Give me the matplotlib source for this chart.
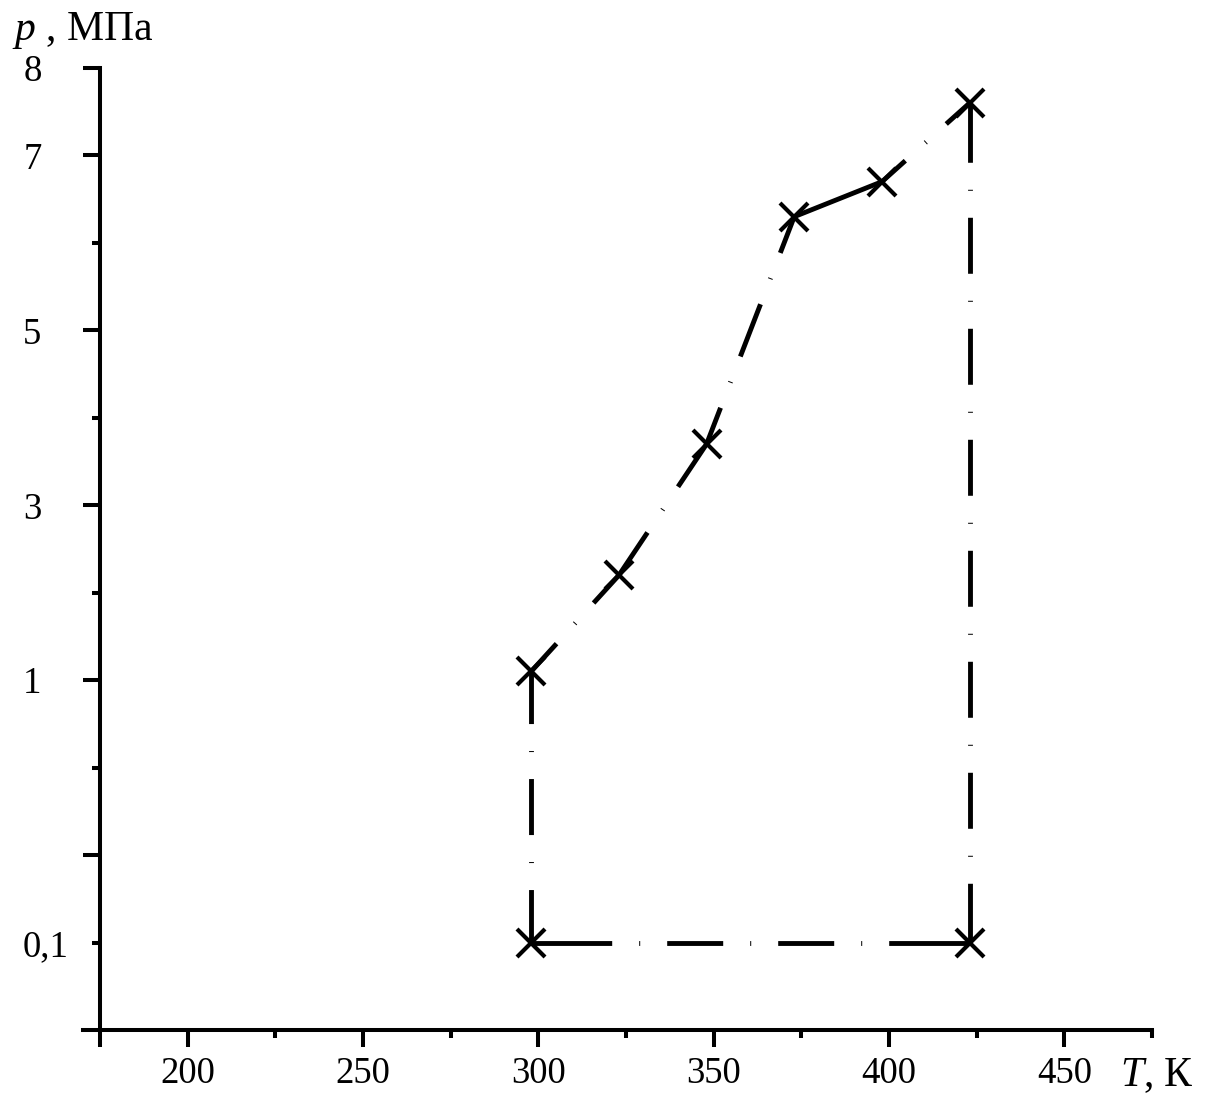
import numpy as np
import matplotlib.pyplot as plt

plt.rcParams['font.family'] = ['Liberation Serif', 'DejaVu Serif']
plt.rcParams['mathtext.fontset'] = 'custom'
plt.rcParams['mathtext.rm'] = 'Liberation Serif'
plt.rcParams['mathtext.it'] = 'Liberation Serif:italic'
plt.rcParams['lines.scale_dashes'] = False

# temperature, K and pressure, MPa along the cycle
T_curve = [298, 323, 348, 373, 398, 423]
p_curve = [1.1, 2.2, 3.7, 6.3, 6.7, 7.6]
T_low = [298, 423]
p_low = [0.1, 0.1]

x_major = [175, 200, 250, 300, 350, 400, 450]
x_major_labels = ['', '200', '250', '300', '350', '400', '450']
x_minor = [225, 275, 325, 375, 425, 475]

y_major = [10 ** (-2 / 3), 1, 3, 5, 7, 8]
y_major_labels = ['', '1', '3', '5', '7', '8']
y_minor = [0.1, 10 ** (-1 / 3), 2, 4, 6]
y_minor_labels = ['0,1', '', '', '', '']


# pressure axis: linear above 1 MPa, compressed log below
def fwd(p):
    p = np.asarray(p, dtype=float)
    lp = 1 + 3 * np.log10(np.clip(p, 1e-6, None))
    return np.where(p >= 1, p, lp)


def inv(y):
    y = np.asarray(y, dtype=float)
    return np.where(y >= 1, y, 10 ** ((y - 1) / 3))


def side(ax, x, y, dash=56, gap=27, dot=1, end_min=27):
    # dash-dot segment that starts and ends with a dash (lengths in pixels)
    a, b = ax.transData.transform(np.column_stack([x, y]))
    L = np.hypot(*(b - a))
    period = dash + 2 * gap + dot
    n = int((L + dash - 2 * end_min) // period)
    k = 72 / ax.figure.dpi
    if n <= 0:
        ls = '-'
    else:
        end = (L + dash - n * period) / 2
        seq = [end, gap, dot, gap] + [dash, gap, dot, gap] * (n - 1) + [end, 1000]
        ls = (0, [v * k for v in seq])
    ax.plot(x, y, color='black', lw=3.5, linestyle=ls,
            dash_capstyle='butt', solid_capstyle='butt')


fig = plt.figure(figsize=(12.16, 11), dpi=100)
ax = fig.add_axes([83 / 1216, 70 / 1100, 1069 / 1216, 962 / 1100])
ax.set_yscale('function', functions=(fwd, inv))
ax.set_xlim(170.2, 475)
ax.set_ylim(10 ** (-4 / 3), 8)

for i in range(len(T_curve) - 1):
    side(ax, T_curve[i:i + 2], p_curve[i:i + 2])
side(ax, [T_curve[0], T_low[0]], [p_curve[0], p_low[0]])
side(ax, [T_curve[-1], T_low[1]], [p_curve[-1], p_low[1]])
side(ax, T_low, p_low)

ax.plot(T_curve + T_low, p_curve + p_low, linestyle='none', marker='x',
        color='black', markersize=19.5, markeredgewidth=3.0)

for s in ['top', 'right']:
    ax.spines[s].set_visible(False)
ax.spines['left'].set_position(('data', 175))
for s in ['left', 'bottom']:
    ax.spines[s].set_linewidth(2.9)

ax.set_xticks(x_major, x_major_labels)
ax.set_xticks(x_minor, minor=True)
ax.set_yticks(y_major, y_major_labels)
ax.set_yticks(y_minor, y_minor_labels, minor=True)

ax.tick_params(which='both', direction='out', width=2.9, labelsize=26.5)
ax.tick_params(which='major', length=12.2)
ax.tick_params(which='minor', length=5.8)
ax.tick_params(axis='x', which='both', pad=7)
ax.tick_params(axis='y', which='major', pad=43)
ax.tick_params(axis='y', which='minor', pad=49.5)
for lab in ax.get_yticklabels(which='both'):
    lab.set_horizontalalignment('left')

fig.text(12 / 1216, 1 - 40 / 1100, r'$p$ , МПа', fontsize=30, va='baseline')
fig.text(1120 / 1216, 1 - 1086 / 1100, r'$T$, К', fontsize=30, va='baseline')

fig.savefig('out.png', dpi=100)
